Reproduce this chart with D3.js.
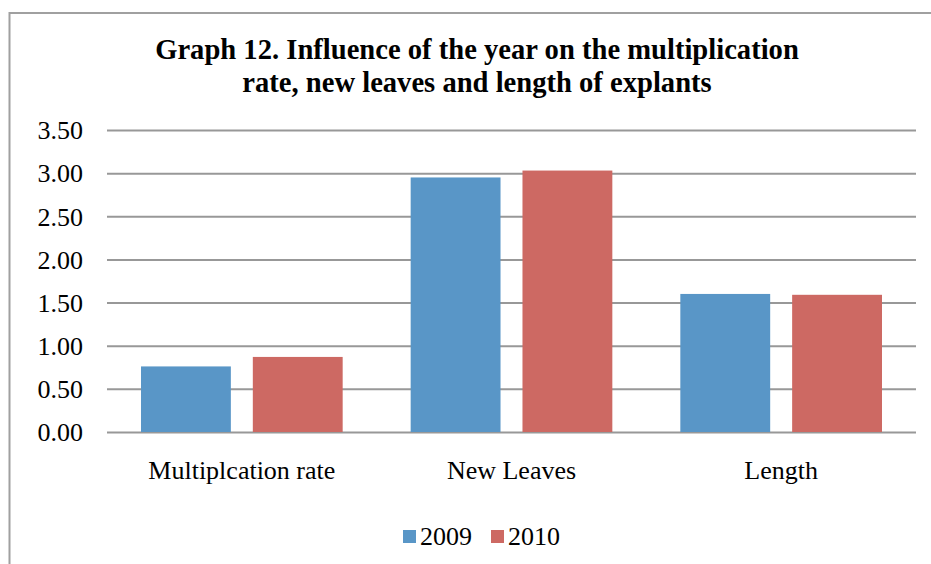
<!DOCTYPE html>
<html><head><meta charset="utf-8">
<script src="https://cdn.jsdelivr.net/npm/d3@7"></script>
<style>
html,body{margin:0;padding:0;background:#fff;}
svg{display:block;}
</style></head>
<body>
<svg id="chart" width="931" height="564"></svg>
<script>
const categories = ["Multiplcation rate", "New Leaves", "Length"];
const seriesNames = ["2009", "2010"];
const values2009 = [0.76, 2.95, 1.60];
const values2010 = [0.87, 3.03, 1.59];
const yTicks = [0, 0.5, 1, 1.5, 2, 2.5, 3, 3.5];
const colors = ["#5996C7", "#CD6963"];
const titleLines = ["Graph 12. Influence of the year on the multiplication", "rate, new leaves and length of explants"];

const FONT = "'Liberation Serif', 'Times New Roman', serif";
const svg = d3.select("#chart");
const W = 931, H = 564;
const plot = {left: 107, right: 916, top: 130, bottom: 432};

// outer border
svg.append("path")
  .attr("d", `M${W+5},13 H9.5 V${H+5}`)
  .attr("fill", "none").attr("stroke", "#A0A0A0").attr("stroke-width", 2);

// title
svg.append("g").selectAll("text").data(titleLines).join("text")
  .attr("x", 477).attr("y", (d,i) => 59 + i*33)
  .attr("text-anchor", "middle")
  .style("font-family", FONT).style("font-size", "28.6px").style("font-weight", "bold")
  .attr("fill", "#000")
  .text(d => d);

const y = d3.scaleLinear().domain([0, 3.5]).range([plot.bottom, plot.top]);
const x0 = d3.scaleBand().domain(categories).range([plot.left, plot.right]).paddingInner(0).paddingOuter(0);
const x1 = d3.scaleBand().domain(seriesNames).range([34, x0.bandwidth() - 34]).paddingInner(22/112).paddingOuter(0);

// gridlines + y axis labels
const yAxis = d3.axisLeft(y).tickValues(yTicks).tickFormat(d3.format(".2f"))
  .tickSize(-(plot.right - plot.left)).tickPadding(24);
const gy = svg.append("g").attr("transform", `translate(${plot.left},0)`).call(yAxis);
gy.select(".domain").remove();
gy.selectAll(".tick line").attr("stroke", "#989898").attr("stroke-width", 2);
gy.selectAll(".tick text").style("font-size", "26px").style("font-family", FONT).attr("fill", "#000").attr("dy", "0.34em");

// bars
const data = categories.map((c, i) => ({cat: c, vals: [values2009[i], values2010[i]]}));
const groups = svg.append("g").selectAll("g").data(data).join("g")
  .attr("transform", d => `translate(${x0(d.cat)},0)`);
groups.selectAll("rect").data(d => d.vals.map((v, j) => ({s: seriesNames[j], v, j})))
  .join("rect")
  .attr("x", d => x1(d.s)).attr("width", x1.bandwidth())
  .attr("y", d => y(d.v)).attr("height", d => y(0) - y(d.v))
  .attr("fill", d => colors[d.j]);

// x axis labels
const xAxis = d3.axisBottom(x0).tickSize(0).tickPadding(29);
const gx = svg.append("g").attr("transform", `translate(0,${plot.bottom})`).call(xAxis);
gx.select(".domain").remove();
gx.selectAll(".tick text").style("font-size", "26px").style("font-family", FONT).attr("fill", "#000");

// legend
const legend = svg.append("g");
const legX = [403, 491];
seriesNames.forEach((s, i) => {
  legend.append("rect").attr("x", legX[i]).attr("y", 530).attr("width", 13).attr("height", 13).attr("fill", colors[i]);
  legend.append("text").attr("x", legX[i] + 17).attr("y", 545)
    .style("font-size", "26px").style("font-family", FONT).attr("fill", "#000").text(s);
});
</script>
</body></html>
